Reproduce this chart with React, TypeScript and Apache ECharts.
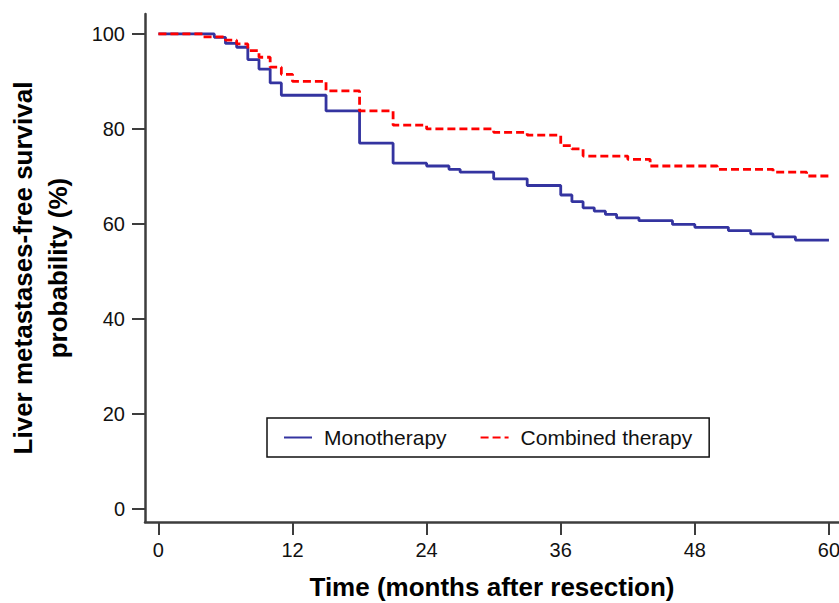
import React, { useEffect, useRef } from "react";
import * as echarts from "echarts";

const monoTimes = [0, 5, 6, 7, 8, 9, 10, 11, 15, 18, 21, 24, 26, 27, 30, 33, 36, 37, 38, 39, 40, 41, 43, 46, 48, 51, 53, 55, 57, 60];
const monoValues = [100, 99.3, 98.0, 97.2, 94.6, 92.6, 89.7, 87.1, 83.8, 77.0, 72.8, 72.2, 71.5, 70.9, 69.5, 68.1, 66.1, 64.7, 63.4, 62.7, 62.0, 61.3, 60.7, 59.9, 59.3, 58.6, 57.9, 57.3, 56.6, 56.6];

const combTimes = [0, 4, 6, 7, 8, 9, 10, 11, 12, 15, 18, 21, 24, 30, 33, 36, 37, 38, 42, 44, 50, 55, 58, 60];
const combValues = [100, 99.4, 98.7, 97.9, 96.5, 95.1, 93.0, 91.5, 90.0, 88.0, 83.8, 80.8, 80.0, 79.3, 78.7, 76.5, 75.8, 74.3, 73.6, 72.2, 71.5, 70.9, 70.1, 70.1];

const xTicks = [0, 12, 24, 36, 48, 60];
const yTicks = [0, 20, 40, 60, 80, 100];

const seriesNames = ["Monotherapy", "Combined therapy"];

const FONT = "'Liberation Sans', Arial, Helvetica, sans-serif";
const AXIS_COLOR = "#3d3d3d";

export default function App() {
  const ref = useRef<HTMLDivElement>(null);

  useEffect(() => {
    if (!ref.current) return;
    const chart = echarts.init(ref.current, undefined, { renderer: "svg" });
    const toPairs = (t: number[], v: number[]) => t.map((x, i) => [x, v[i]]);

    chart.setOption({
      animation: false,
      backgroundColor: "#ffffff",
      textStyle: { fontFamily: FONT },
      grid: { left: 145, right: 0, top: 14, bottom: 81, containLabel: false, outerBoundsMode: "none" },
      legend: {
        left: 267,
        top: 418,
        orient: "horizontal",
        data: seriesNames,
        borderColor: "#111",
        borderWidth: 1.5,
        backgroundColor: "#fff",
        padding: [9, 17, 9, 16],
        itemWidth: 28,
        itemHeight: 14,
        itemGap: 33,
        itemStyle: { opacity: 0 },
        textStyle: { fontSize: 21, color: "#111", fontFamily: FONT, padding: [0, 0, 0, 7] },
      },
      xAxis: {
        type: "value",
        min: -1.2,
        max: 60.9,
        name: "Time (months after resection)",
        nameLocation: "middle",
        nameGap: 52,
        nameTextStyle: { fontSize: 26, fontWeight: "bold", color: "#000", fontFamily: FONT },
        axisLine: { onZero: false, lineStyle: { color: AXIS_COLOR, width: 2.5 } },
        axisTick: { show: true, length: 13, customValues: xTicks, lineStyle: { color: AXIS_COLOR, width: 2 } },
        axisLabel: { customValues: xTicks, fontSize: 20, color: "#111", margin: 18, fontFamily: FONT },
        splitLine: { show: false },
      },
      yAxis: {
        type: "value",
        min: -2.74,
        max: 104.2,
        name: "Liver metastases-free survival\nprobability (%)",
        nameLocation: "middle",
        nameRotate: 90,
        nameGap: 70,
        nameTextStyle: { fontSize: 26, fontWeight: "bold", color: "#000", lineHeight: 35, fontFamily: FONT },
        axisLine: { onZero: false, lineStyle: { color: AXIS_COLOR, width: 2.5 } },
        axisTick: { show: true, length: 13, customValues: yTicks, lineStyle: { color: AXIS_COLOR, width: 2 } },
        axisLabel: { customValues: yTicks, fontSize: 20, color: "#111", margin: 20, fontFamily: FONT },
        splitLine: { show: false },
      },
      series: [
        {
          name: seriesNames[0],
          type: "line",
          step: "end",
          symbol: "none",
          data: toPairs(monoTimes, monoValues),
          lineStyle: { color: "#3434a0", width: 2.8 },
          itemStyle: { color: "#3434a0" },
          z: 2,
        },
        {
          name: seriesNames[1],
          type: "line",
          step: "end",
          symbol: "none",
          data: toPairs(combTimes, combValues),
          lineStyle: { color: "#ff0000", width: 2.8, type: [8, 4] },
          itemStyle: { color: "#ff0000" },
          z: 3,
        },
      ],
    });

    return () => chart.dispose();
  }, []);

  return (
    <div
      ref={ref}
      style={{ position: "fixed", left: 0, top: 0, width: 839, height: 603, background: "#fff" }}
    />
  );
}
